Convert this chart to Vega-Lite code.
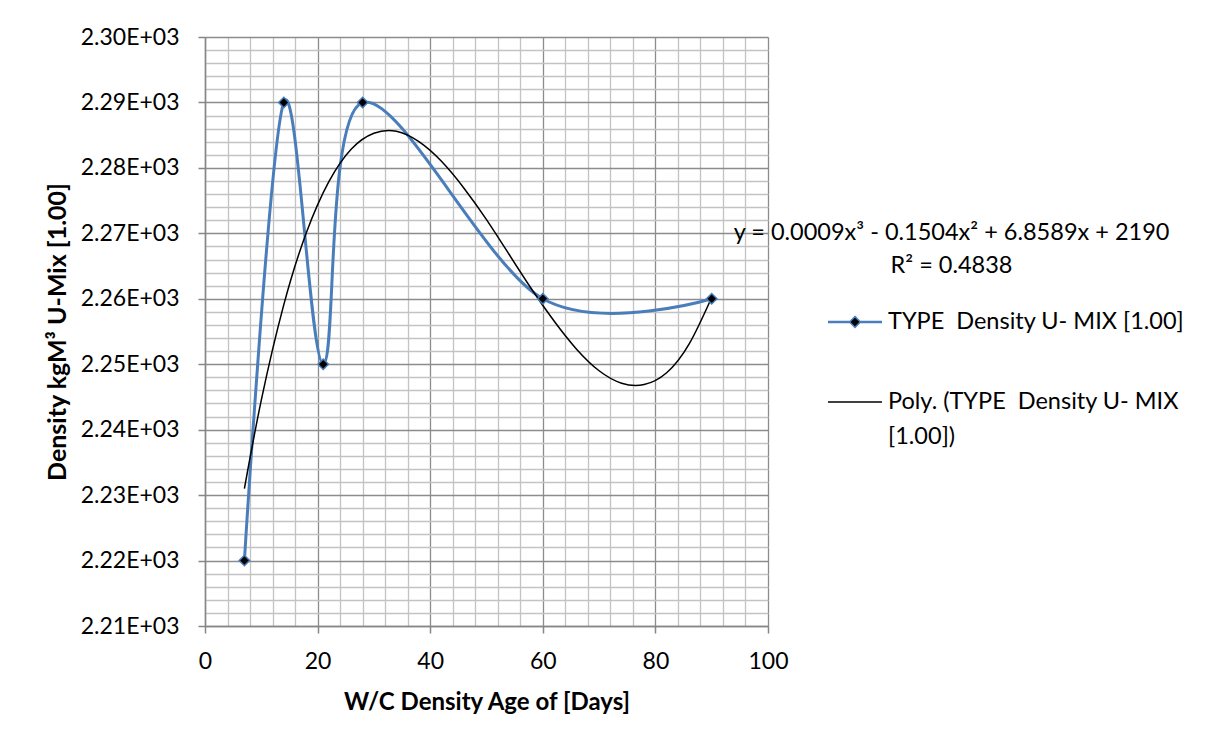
{
  "$schema": "https://vega.github.io/schema/vega-lite/v6.json",
  "autosize": {"type": "none"},
  "width": 563,
  "height": 589,
  "padding": {"left": 205, "top": 37, "right": 437, "bottom": 119},
  "background": "white",
  "config": {"view": {"stroke": null}, "font": "Lato"},
  "datasets": {
    "measured": [
      {"age": 7, "density": 2220},
      {"age": 14, "density": 2290},
      {"age": 21, "density": 2250},
      {"age": 28, "density": 2290},
      {"age": 60, "density": 2260},
      {"age": 90, "density": 2260}
    ],
    "trend": [
      {"age": 7, "density": 2231.0},
      {"age": 10, "density": 2244.5},
      {"age": 14, "density": 2259.1},
      {"age": 18, "density": 2270.1},
      {"age": 22, "density": 2277.9},
      {"age": 26, "density": 2282.9},
      {"age": 30, "density": 2285.3},
      {"age": 34, "density": 2285.6},
      {"age": 38, "density": 2284.0},
      {"age": 42, "density": 2281.0},
      {"age": 46, "density": 2276.9},
      {"age": 50, "density": 2272.1},
      {"age": 54, "density": 2266.8},
      {"age": 58, "density": 2261.5},
      {"age": 62, "density": 2256.6},
      {"age": 66, "density": 2252.3},
      {"age": 70, "density": 2249.0},
      {"age": 74, "density": 2247.1},
      {"age": 78, "density": 2246.9},
      {"age": 82, "density": 2248.7},
      {"age": 86, "density": 2253.1},
      {"age": 90, "density": 2260.2}
    ]
  },
  "resolve": {"axis": {"x": "independent", "y": "independent"}},
  "layer": [
    {
      "data": {"name": "measured"},
      "mark": {"type": "line", "interpolate": "cardinal", "strokeWidth": 3},
      "encoding": {
        "x": {
          "field": "age", "type": "quantitative",
          "scale": {"domain": [0, 100], "nice": false, "zero": false},
          "axis": {
            "orient": "bottom",
            "values": [0, 20, 40, 60, 80, 100],
            "grid": true, "gridColor": "#8c8c8c", "gridWidth": 1.3,
            "domainColor": "#868686", "domainWidth": 1.5,
            "tickColor": "#868686", "tickSize": 7, "tickWidth": 1.5,
            "labelFont": "Lato", "labelFontSize": 23, "labelColor": "#000000",
            "labelPadding": 17, "labelFlush": false,
            "title": "W/C Density Age of [Days]",
            "titleFont": "Lato", "titleFontSize": 24, "titleFontWeight": "bold",
            "titleColor": "#000000", "titlePadding": 17
          }
        },
        "y": {
          "field": "density", "type": "quantitative",
          "scale": {"domain": [2210, 2300], "nice": false, "zero": false},
          "axis": {
            "orient": "left",
            "values": [2210, 2220, 2230, 2240, 2250, 2260, 2270, 2280, 2290, 2300],
            "labelExpr": "format(datum.value / 1000, '.2f') + 'E+03'",
            "grid": true, "gridColor": "#8c8c8c", "gridWidth": 1.3,
            "domainColor": "#868686", "domainWidth": 1.5,
            "tickColor": "#868686", "tickSize": 7, "tickWidth": 1.5,
            "labelFont": "Lato", "labelFontSize": 23, "labelColor": "#000000",
            "labelPadding": 19, "labelFlush": false,
            "title": "Density kgM³ U-Mix [1.00]",
            "titleFont": "Lato", "titleFontSize": 25, "titleFontWeight": "bold",
            "titleColor": "#000000", "titlePadding": 10
          }
        },
        "stroke": {
          "datum": "TYPE  Density U- MIX [1.00]",
          "type": "nominal",
          "scale": {
            "domain": ["TYPE  Density U- MIX [1.00]", "Poly. (TYPE  Density U- MIX [1.00])"],
            "range": ["#4a7ebb", "#000000"]
          },
          "legend": {
            "orient": "none",
            "legendX": 621,
            "legendY": 257,
            "title": null,
            "padding": 0,
            "labelFont": "Lato",
            "labelFontSize": 23.5,
            "labelColor": "#000000",
            "labelOffset": 5,
            "symbolOffset": 1,
            "labelLimit": 500,
            "rowPadding": 40,
            "symbolSize": 2916,
            "symbolStrokeWidth": 1.5,
            "labelExpr": "datum.value === 'TYPE  Density U- MIX [1.00]' ? 'TYPE\u00a0 Density U- MIX [1.00]' : ['Poly. (TYPE\u00a0 Density U- MIX', '[1.00])']",
            "encode": {
              "symbols": {
                "update": {
                  "shape": {"signal": "datum.value === 'TYPE  Density U- MIX [1.00]' ? 'M-1,-0.02H-0.19M0.19,-0.02H1M-1,0.02H-0.19M0.19,0.02H1M0,-0.2L0.2,0L0,0.2L-0.2,0Z' : 'M-1,0H1'"},
                  "fill": {"signal": "datum.value === 'TYPE  Density U- MIX [1.00]' ? '#000000' : 'transparent'"},
                  "opacity": {"value": 1}
                }
              },
              "labels": {
                "update": {"lineHeight": {"value": 35}}
              }
            }
          }
        }
      }
    },
    {
      "data": {"name": "trend"},
      "mark": {"type": "line", "interpolate": "natural", "strokeWidth": 1.5},
      "encoding": {
        "x": {
          "field": "age", "type": "quantitative",
          "axis": {
            "orient": "top",
            "values": [4, 8, 12, 16, 24, 28, 32, 36, 44, 48, 52, 56, 64, 68, 72, 76, 84, 88, 92, 96],
            "grid": true, "gridColor": "#c3c3c3", "gridWidth": 1.3,
            "labels": false, "ticks": false, "domain": false, "title": null
          }
        },
        "y": {
          "field": "density", "type": "quantitative",
          "axis": {
            "orient": "right",
            "values": [2212, 2214, 2216, 2218, 2222, 2224, 2226, 2228, 2232, 2234, 2236, 2238, 2242, 2244, 2246, 2248, 2252, 2254, 2256, 2258, 2262, 2264, 2266, 2268, 2272, 2274, 2276, 2278, 2282, 2284, 2286, 2288, 2292, 2294, 2296, 2298],
            "grid": true, "gridColor": "#c3c3c3", "gridWidth": 1.3,
            "labels": false, "ticks": false, "domain": false, "title": null
          }
        },
        "stroke": {"datum": "Poly. (TYPE  Density U- MIX [1.00])", "type": "nominal"}
      }
    },
    {
      "data": {"name": "measured"},
      "mark": {"type": "point", "shape": "diamond", "size": 110, "filled": true, "fill": "#000000", "stroke": "#4a7ebb", "strokeWidth": 1.5, "opacity": 1},
      "encoding": {
        "x": {"field": "age", "type": "quantitative", "axis": null},
        "y": {"field": "density", "type": "quantitative", "axis": null}
      }
    },
    {
      "data": {"values": [{}]},
      "mark": {
        "type": "text",
        "text": ["y = 0.0009x³ - 0.1504x² + 6.8589x + 2190", "R² = 0.4838"],
        "font": "Lato", "fontSize": 23.5, "color": "#000000",
        "align": "center", "baseline": "middle", "lineHeight": 33
      },
      "encoding": {
        "x": {"datum": 132.6, "type": "quantitative", "axis": null},
        "y": {"datum": 2270, "type": "quantitative", "axis": null}
      }
    }
  ]
}
